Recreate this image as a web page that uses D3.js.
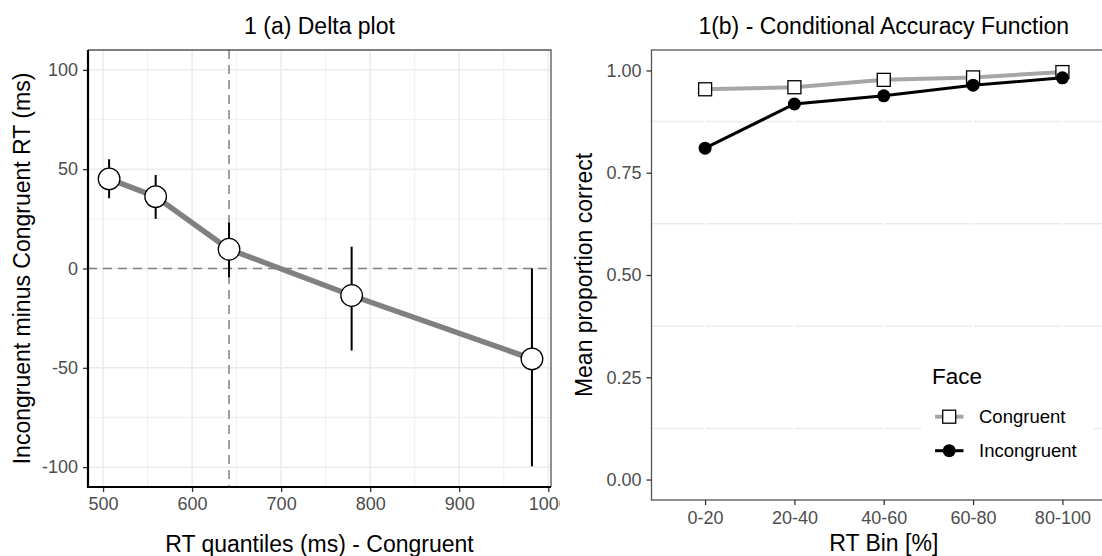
<!DOCTYPE html>
<html>
<head>
<meta charset="utf-8">
<script src="https://cdn.jsdelivr.net/npm/d3@7"></script>
<style>
  body { margin: 0; background: white; }
  svg { display: block; font-family: "Liberation Sans", Arial, sans-serif; }
</style>
</head>
<body>
<div id="container"></div>
<script>
/* DATA */
// 1(a) delta plot
const rtQuantiles = [506.8, 559.1, 641.5, 779.2, 981.7]
const delta = [45.1, 36.2, 9.7, -13.6, -45.5]
const deltaLow = [35.4, 25, -4.4, -41.3, -99.6]
const deltaHigh = [55, 47.1, 23.1, 11, 0]
const medianRT = 641.5

// 1(b) conditional accuracy
const bins = ["0-20", "20-40", "40-60", "60-80", "80-100"]
const accCongruent = [0.954, 0.959, 0.977, 0.983, 0.996]
const accIncongruent = [0.810, 0.918, 0.938, 0.964, 0.982]

// tick labels
const deltaTicksX = [500, 600, 700, 800, 900, 1000]
const deltaTicksY = [-100, -50, 0, 50, 100]
const accTicksY = [0, 0.25, 0.5, 0.75, 1]

/* CONSTANTS AND GLOBALS */
const width = 1102, height = 556
const pA = { left: 88, right: 551, top: 50, bottom: 487 }
const pB = { left: 651.5, right: 1116, top: 50, bottom: 500 }
const gridCol = "#EBEBEB", tickCol = "#4D4D4D"

const svg = d3.select("#container")
  .append("svg")
  .attr("width", width)
  .attr("height", height)

svg.append("defs").append("clipPath")
  .attr("id", "clipA")
  .append("rect")
  .attr("x", 0).attr("y", 0).attr("width", 560).attr("height", height)

// SCALES
const xA = d3.scaleLinear().domain([483.1, 1003.1]).range([pA.left, pA.right])
const yA = d3.scaleLinear().domain([-110, 110]).range([pA.bottom, pA.top])
const xB = d3.scalePoint().domain(bins).range([pB.left, pB.right]).padding(0.6)
const yB = d3.scaleLinear().domain([-0.05, 1.05]).range([pB.bottom, pB.top])

const mids = arr => d3.pairs(arr).map(([a, b]) => (a + b) / 2)

/* PANEL A */
const gA = svg.append("g").attr("clip-path", "url(#clipA)")

// grid
gA.selectAll(".minorX").data(mids(deltaTicksX)).join("line")
  .attr("x1", d => xA(d)).attr("x2", d => xA(d))
  .attr("y1", pA.top).attr("y2", pA.bottom)
  .attr("stroke", gridCol).attr("stroke-width", 0.8)
gA.selectAll(".minorY").data(mids(deltaTicksY)).join("line")
  .attr("x1", pA.left).attr("x2", pA.right)
  .attr("y1", d => yA(d)).attr("y2", d => yA(d))
  .attr("stroke", gridCol).attr("stroke-width", 0.8)
gA.selectAll(".majorX").data(deltaTicksX).join("line")
  .attr("x1", d => xA(d)).attr("x2", d => xA(d))
  .attr("y1", pA.top).attr("y2", pA.bottom)
  .attr("stroke", gridCol).attr("stroke-width", 1.5)
gA.selectAll(".majorY").data(deltaTicksY).join("line")
  .attr("x1", pA.left).attr("x2", pA.right)
  .attr("y1", d => yA(d)).attr("y2", d => yA(d))
  .attr("stroke", gridCol).attr("stroke-width", 1.5)

// reference lines
gA.append("line")
  .attr("x1", pA.left).attr("x2", pA.right)
  .attr("y1", yA(0)).attr("y2", yA(0))
  .attr("stroke", "#7F7F7F").attr("stroke-width", 1.5).attr("stroke-dasharray", "9,6")
gA.append("line")
  .attr("x1", xA(medianRT)).attr("x2", xA(medianRT))
  .attr("y1", pA.top).attr("y2", pA.bottom)
  .attr("stroke", "#7F7F7F").attr("stroke-width", 1.5).attr("stroke-dasharray", "9,6")

// border top/right
gA.append("path")
  .attr("d", `M${pA.left},${pA.top}H${pA.right}V${pA.bottom}`)
  .attr("fill", "none").attr("stroke", "#555").attr("stroke-width", 1.3)

// line
const deltaData = rtQuantiles.map((x, i) => ({ x, y: delta[i], lo: deltaLow[i], hi: deltaHigh[i] }))
gA.append("path")
  .datum(deltaData)
  .attr("d", d3.line().x(d => xA(d.x)).y(d => yA(d.y)))
  .attr("fill", "none").attr("stroke", "#808080").attr("stroke-width", 5.5)

// error bars
gA.selectAll(".err").data(deltaData).join("line")
  .attr("x1", d => xA(d.x)).attr("x2", d => xA(d.x))
  .attr("y1", d => yA(d.lo)).attr("y2", d => yA(d.hi))
  .attr("stroke", "black").attr("stroke-width", 2)

// points
gA.selectAll(".pt").data(deltaData).join("circle")
  .attr("cx", d => xA(d.x)).attr("cy", d => yA(d.y)).attr("r", 10.8)
  .attr("fill", "white").attr("stroke", "black").attr("stroke-width", 1.3)

// axes
const yAxisA = gA.append("g")
  .attr("transform", `translate(${pA.left},0)`)
  .call(d3.axisLeft(yA).tickValues(deltaTicksY).tickSize(5).tickPadding(5).tickFormat(d => String(d)))
const xAxisA = gA.append("g")
  .attr("transform", `translate(0,${pA.bottom})`)
  .call(d3.axisBottom(xA).tickValues(deltaTicksX).tickSize(5).tickPadding(5).tickFormat(d => String(d)))
;[yAxisA, xAxisA].forEach(ax => {
  ax.select(".domain").remove()
  ax.selectAll(".tick line").attr("stroke", "#333").attr("stroke-width", 1.3)
  ax.selectAll(".tick text").attr("fill", tickCol).style("font-size", "18px").style("font-family", "Liberation Sans, Arial, sans-serif")
})
gA.append("path")
  .attr("d", `M${pA.left},${pA.top}V${pA.bottom}H${pA.right}`)
  .attr("fill", "none").attr("stroke", "black").attr("stroke-width", 2.2)

// labels
svg.append("text")
  .attr("x", (pA.left + pA.right) / 2).attr("y", 34)
  .attr("text-anchor", "middle").style("font-size", "23px")
  .text("1 (a) Delta plot")
svg.append("text")
  .attr("x", (pA.left + pA.right) / 2).attr("y", 552)
  .attr("text-anchor", "middle").style("font-size", "23px")
  .text("RT quantiles (ms) - Congruent")
svg.append("text")
  .attr("transform", `translate(30,${(pA.top + pA.bottom) / 2}) rotate(-90)`)
  .attr("text-anchor", "middle").style("font-size", "23px")
  .text("Incongruent minus Congruent RT (ms)")

/* PANEL B */
const gB = svg.append("g")

gB.selectAll(".minorY").data(mids(accTicksY)).join("line")
  .attr("x1", pB.left).attr("x2", pB.right)
  .attr("y1", d => yB(d)).attr("y2", d => yB(d))
  .attr("stroke", gridCol).attr("stroke-width", 1.5)
gB.selectAll(".majorX").data(bins).join("line")
  .attr("x1", d => xB(d)).attr("x2", d => xB(d))
  .attr("y1", pB.top).attr("y2", pB.bottom)
  .attr("stroke", "white").attr("stroke-width", 2)

gB.append("rect")
  .attr("x", pB.left).attr("y", pB.top)
  .attr("width", pB.right - pB.left).attr("height", pB.bottom - pB.top)
  .attr("fill", "none").attr("stroke", "#555").attr("stroke-width", 1.3)

// congruent
gB.append("path")
  .datum(accCongruent)
  .attr("d", d3.line().x((d, i) => xB(bins[i])).y(d => yB(d)))
  .attr("fill", "none").attr("stroke", "#A6A6A6").attr("stroke-width", 4)
gB.selectAll(".sq").data(accCongruent).join("rect")
  .attr("x", (d, i) => xB(bins[i]) - 6.5).attr("y", d => yB(d) - 6.5)
  .attr("width", 13).attr("height", 13)
  .attr("fill", "white").attr("stroke", "black").attr("stroke-width", 1.3)

// incongruent
gB.append("path")
  .datum(accIncongruent)
  .attr("d", d3.line().x((d, i) => xB(bins[i])).y(d => yB(d)))
  .attr("fill", "none").attr("stroke", "black").attr("stroke-width", 3)
gB.selectAll(".dot").data(accIncongruent).join("circle")
  .attr("cx", (d, i) => xB(bins[i])).attr("cy", d => yB(d)).attr("r", 6.5)
  .attr("fill", "black")

// axes
const yAxisB = gB.append("g")
  .attr("transform", `translate(${pB.left},0)`)
  .call(d3.axisLeft(yB).tickValues(accTicksY).tickSize(5).tickPadding(5).tickFormat(d3.format(".2f")))
const xAxisB = gB.append("g")
  .attr("transform", `translate(0,${pB.bottom})`)
  .call(d3.axisBottom(xB).tickSize(5).tickPadding(6))
;[yAxisB, xAxisB].forEach(ax => {
  ax.select(".domain").remove()
  ax.selectAll(".tick line").attr("stroke", "#333").attr("stroke-width", 1.3)
  ax.selectAll(".tick text").attr("fill", tickCol).style("font-size", "18px").style("font-family", "Liberation Sans, Arial, sans-serif")
})

// labels
svg.append("text")
  .attr("x", (pB.left + pB.right) / 2).attr("y", 34)
  .attr("text-anchor", "middle").style("font-size", "23px")
  .text("1(b) - Conditional Accuracy Function")
svg.append("text")
  .attr("x", (pB.left + pB.right) / 2).attr("y", 551)
  .attr("text-anchor", "middle").style("font-size", "23px")
  .text("RT Bin [%]")
svg.append("text")
  .attr("transform", `translate(592,${(pB.top + pB.bottom) / 2}) rotate(-90)`)
  .attr("text-anchor", "middle").style("font-size", "23px")
  .text("Mean proportion correct")

// LEGEND
const legend = svg.append("g")
legend.append("rect")
  .attr("x", 921).attr("y", 358).attr("width", 172).attr("height", 114)
  .attr("fill", "white")
legend.append("text")
  .attr("x", 932).attr("y", 384).style("font-size", "22.5px")
  .text("Face")
const keys = [
  { name: "Congruent", y: 416.7, col: "#A6A6A6", lw: 4, shape: "square" },
  { name: "Incongruent", y: 450.7, col: "black", lw: 3, shape: "circle" }
]
keys.forEach(k => {
  legend.append("line")
    .attr("x1", 935).attr("x2", 963.5).attr("y1", k.y).attr("y2", k.y)
    .attr("stroke", k.col).attr("stroke-width", k.lw)
  if (k.shape === "square") {
    legend.append("rect")
      .attr("x", 949.2 - 6.5).attr("y", k.y - 6.5).attr("width", 13).attr("height", 13)
      .attr("fill", "white").attr("stroke", "black").attr("stroke-width", 1.3)
  } else {
    legend.append("circle")
      .attr("cx", 949.2).attr("cy", k.y).attr("r", 6.5).attr("fill", "black")
  }
  legend.append("text")
    .attr("x", 979).attr("y", k.y + 6.6).style("font-size", "18.5px")
    .text(k.name)
})
</script>
</body>
</html>
